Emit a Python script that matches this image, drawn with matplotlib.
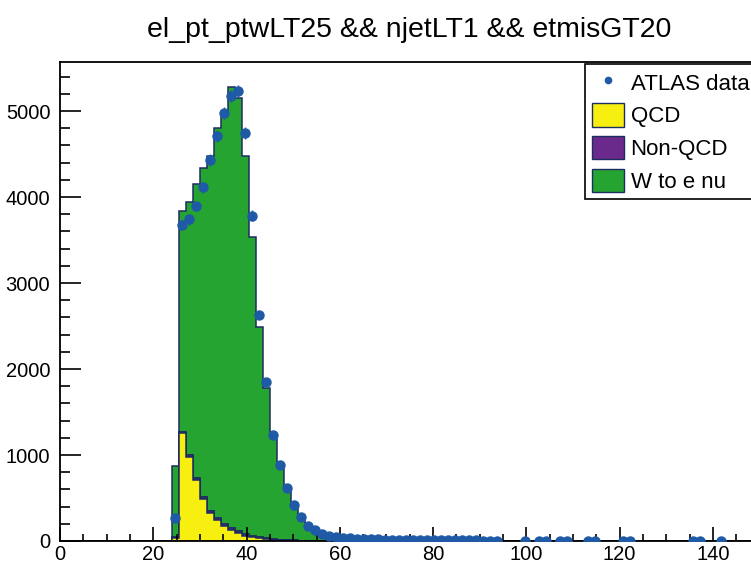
import numpy as np
import matplotlib
matplotlib.use("Agg")
import matplotlib.pyplot as plt
from matplotlib.ticker import MultipleLocator
from matplotlib.lines import Line2D
from matplotlib.patches import Patch

plt.rcParams['font.family'] = ['Liberation Sans', 'DejaVu Sans']

# histogram binning: 100 bins from 0 to 150 (1.5 GeV each)
edges = np.linspace(0, 150, 101)
centers = 0.5 * (edges[:-1] + edges[1:])
first_bin = 16  # first filled bin starts at 24

# per-bin contents, starting at bin 16 (24-25.5)
data_counts = [270, 3674, 3740, 3895, 4112, 4430, 4709, 4973, 5174, 5233,
               4740, 3783, 2628, 1853, 1232, 884, 620, 419, 275, 175,
               128, 85, 60, 45, 38, 32, 27, 24, 21, 19,
               17, 16, 14, 13, 12, 11, 10, 10, 9, 8,
               8, 7, 6, 6, 5, 4, 4, 0, 0, 0,
               2, 0, 1, 1, 0, 1, 1, 0, 0, 1,
               1, 0, 0, 0, 1, 1, 0, 0, 0, 0,
               0, 0, 0, 0, 1, 1, 0, 0, 1]

stack_total = [870, 3840, 3938, 4151, 4341, 4477, 4806, 4946, 5283, 5148,
               4477, 3531, 2490, 1775, 1194, 860, 590, 420, 260, 170,
               115, 80, 55, 40, 30, 24, 19, 15, 12, 10,
               8, 7, 6, 5, 4, 4, 3, 3, 3, 2,
               2, 2, 2, 1, 1, 1, 1]

qcd = [40, 1252, 975, 705, 485, 325, 240, 170, 125, 88,
       58, 42, 30, 22, 15, 10, 7, 5, 4, 3,
       2, 2, 1, 1]

non_qcd = [5, 20, 22, 24, 25, 26, 27, 28, 28, 27,
           24, 20, 14, 10, 7, 5, 3, 2, 1, 1]


def full(values):
    arr = np.zeros(len(centers))
    arr[first_bin:first_bin + len(values)] = values
    return arr


data = full(data_counts)
h_qcd = full(qcd)
h_nonqcd = full(non_qcd)
h_w = np.clip(full(stack_total) - h_qcd - h_nonqcd, 0, None)

fig = plt.figure(figsize=(7.51, 5.64), dpi=100)
ax = fig.add_axes([60 / 751, 23 / 564, 699.6 / 751, 479 / 564])

ax.hist([centers, centers, centers], bins=edges,
        weights=[h_qcd, h_nonqcd, h_w], stacked=True,
        histtype='stepfilled',
        color=['#f6ef10', '#6a2a8c', '#25a431'],
        edgecolor='#1c2d60', linewidth=1.1)

mask = data > 0
ax.errorbar(centers[mask], data[mask], yerr=np.sqrt(data[mask]),
            fmt='o', color='#1f5aa6', ecolor='#1f5aa6',
            markersize=6.5, elinewidth=1, capsize=0, zorder=5)

ax.set_xlim(0, 150)
ax.set_ylim(0, 5570)

ax.xaxis.set_major_locator(MultipleLocator(20))
ax.xaxis.set_minor_locator(MultipleLocator(5))
ax.yaxis.set_major_locator(MultipleLocator(1000))
ax.yaxis.set_minor_locator(MultipleLocator(200))
ax.tick_params(axis='both', which='both', direction='in', labelsize=14.5,
               top=False, right=False, width=1.2)
ax.tick_params(axis='x', which='major', length=10, pad=3)
ax.tick_params(axis='x', which='minor', length=5)
ax.tick_params(axis='y', which='major', length=15, pad=7)
ax.tick_params(axis='y', which='minor', length=7.5)
for sp in ax.spines.values():
    sp.set_linewidth(1.3)

fig.text(409 / 751, 1 - 30 / 564, 'el_pt_ptwLT25 && njetLT1 && etmisGT20',
         ha='center', va='center', fontsize=20.5)

handles = [Line2D([], [], marker='o', linestyle='none', color='#1f5aa6', markersize=4.5),
           Patch(facecolor='#f6ef10', edgecolor='#1c2d60'),
           Patch(facecolor='#6a2a8c', edgecolor='#1c2d60'),
           Patch(facecolor='#25a431', edgecolor='#1c2d60')]
labels = ['ATLAS data', 'QCD', 'Non-QCD', 'W to e nu']
leg = ax.legend(handles, labels, loc='upper left', bbox_to_anchor=(0.7504, 0.996),
                borderaxespad=0, fancybox=False, edgecolor='black', framealpha=1,
                fontsize=16, borderpad=0.3, handlelength=1.45, handleheight=1.25,
                handletextpad=0.3, labelspacing=0.38)
leg.get_frame().set_linewidth(1.2)

fig.savefig('out.png', dpi=100)
